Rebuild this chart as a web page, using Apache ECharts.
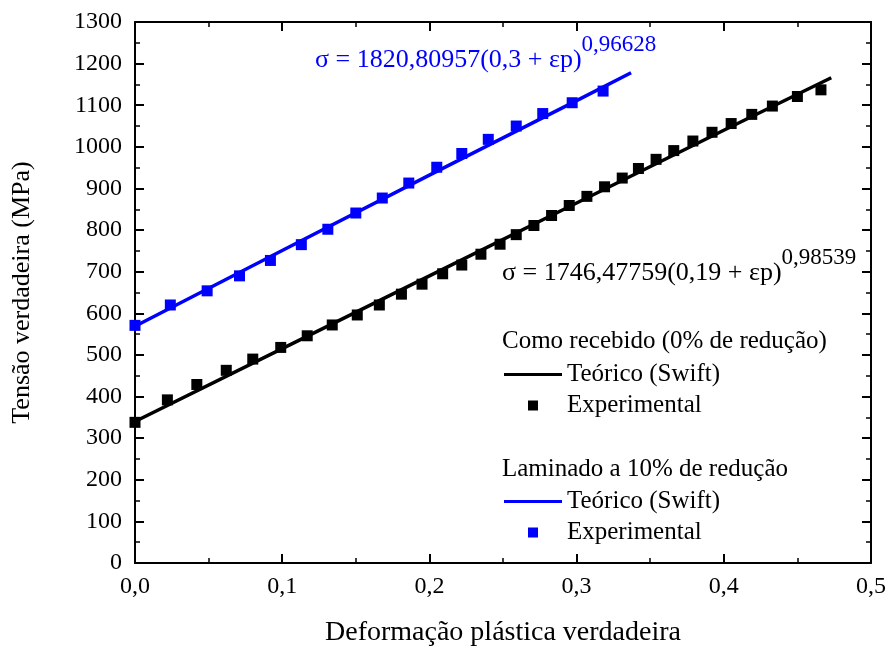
<!DOCTYPE html>
<html>
<head>
<meta charset="utf-8">
<script src="https://cdn.jsdelivr.net/npm/echarts@6/dist/echarts.min.js"></script>
<style>
  html, body { margin: 0; padding: 0; background: #fff; }
  #chart { width: 888px; height: 647px; }
</style>
</head>
<body>
<div id="chart"></div>
<script>
// Como recebido (0% de reducao)
const expBlackX = [0.000, 0.022, 0.042, 0.062, 0.080, 0.099, 0.117, 0.134, 0.151, 0.166, 0.181, 0.195, 0.209, 0.222, 0.235, 0.248, 0.259,
  0.271, 0.283, 0.295, 0.307, 0.319, 0.331, 0.342, 0.354, 0.366, 0.379, 0.392, 0.405, 0.419, 0.433, 0.450, 0.466]
const expBlackY = [338, 392, 429, 463, 490, 518, 546, 572, 596, 620, 646, 670, 695, 716, 742, 766, 789,
  811, 835, 859, 881, 904, 925, 948, 970, 991, 1014, 1035, 1056, 1078, 1098, 1121, 1137]
const fitBlackX = [0, 0.1, 0.2, 0.3, 0.4, 0.473]
const fitBlackY = [340, 515, 690, 865, 1040, 1166]

// Laminado a 10% de reducao
const expBlueX = [0.000, 0.024, 0.049, 0.071, 0.092, 0.113, 0.131, 0.150, 0.168, 0.186, 0.205, 0.222, 0.240, 0.259, 0.277, 0.297, 0.318]
const expBlueY = [571, 620, 654, 690, 727, 765, 802, 841, 877, 913, 951, 984, 1018, 1050, 1080, 1106, 1134]
const fitBlueX = [0, 0.1, 0.2, 0.3, 0.337]
const fitBlueY = [569, 751, 932, 1111, 1178]

const xTicks = [0, 0.1, 0.2, 0.3, 0.4, 0.5]
const yTicks = [0, 100, 200, 300, 400, 500, 600, 700, 800, 900, 1000, 1100, 1200, 1300]

const FONT = '"Liberation Serif", "Times New Roman", serif'
const BLUE = '#0000FF'
const squareIcon = 'path://M0,0L10,0L10,10L0,10Z'
const lineIcon = 'path://M0,0L58,0L58,3L0,3Z'

const zip = (xs, ys) => xs.map((x, i) => [x, ys[i]])

const baseAxis = {
  type: 'value',
  axisLine: { show: true, onZero: false, lineStyle: { color: '#000', width: 2 } },
  axisTick: { show: true, inside: true, length: 9, lineStyle: { color: '#000', width: 2 } },
  minorTick: { show: true, splitNumber: 2, length: 5, lineStyle: { color: '#000', width: 1.5 } },
  splitLine: { show: false },
  axisLabel: { color: '#000', fontFamily: FONT, fontSize: 24 }
}

const legendText = { color: '#000', fontFamily: FONT, fontSize: 25, lineHeight: 22 }

// equation label: main part + superscript exponent
const eqRich = color => ({
  m: { fill: color, fontFamily: FONT, fontSize: 26, lineHeight: 40, verticalAlign: 'bottom' },
  s: { fill: color, fontFamily: FONT, fontSize: 23, lineHeight: 20, verticalAlign: 'top' }
})

const chart = echarts.init(document.getElementById('chart'))
chart.setOption({
  animation: false,
  backgroundColor: '#fff',
  grid: { left: 135, right: 17, top: 22, bottom: 84, containLabel: false, outerBoundsMode: 'none' },
  xAxis: [
    Object.assign({}, baseAxis, {
      position: 'bottom', min: xTicks[0], max: xTicks[xTicks.length - 1], interval: 0.1,
      axisLabel: Object.assign({}, baseAxis.axisLabel, { margin: 12, formatter: v => v.toFixed(1).replace('.', ',') }),
      name: 'Deformação plástica verdadeira', nameLocation: 'middle', nameGap: 56,
      nameTextStyle: { color: '#000', fontFamily: FONT, fontSize: 28 }
    }),
    Object.assign({}, baseAxis, {
      position: 'top', min: xTicks[0], max: xTicks[xTicks.length - 1], interval: 0.1,
      axisLabel: { show: false }
    })
  ],
  yAxis: [
    Object.assign({}, baseAxis, {
      position: 'left', min: yTicks[0], max: yTicks[yTicks.length - 1], interval: 100,
      axisLabel: Object.assign({}, baseAxis.axisLabel, { margin: 13, formatter: v => String(v) }),
      name: 'Tensão verdadeira (MPa)', nameLocation: 'middle', nameGap: 100,
      nameTextStyle: { color: '#000', fontFamily: FONT, fontSize: 26 }
    }),
    Object.assign({}, baseAxis, {
      position: 'right', min: yTicks[0], max: yTicks[yTicks.length - 1], interval: 100,
      axisLabel: { show: false }
    })
  ],
  legend: [
    {
      orient: 'vertical', left: 499, top: 357, itemWidth: 58, itemHeight: 10, itemGap: 6,
      formatter: n => n.split('|')[0], textStyle: legendText,
      data: [{ name: 'Teórico (Swift)|0', icon: lineIcon }, { name: 'Experimental|0', icon: squareIcon }]
    },
    {
      orient: 'vertical', left: 499, top: 484, itemWidth: 58, itemHeight: 10, itemGap: 6,
      formatter: n => n.split('|')[0], textStyle: legendText,
      data: [{ name: 'Teórico (Swift)|1', icon: lineIcon }, { name: 'Experimental|1', icon: squareIcon }]
    }
  ],
  graphic: [
    { type: 'text', left: 502, top: 329, style: { text: 'Como recebido (0% de redução)', fill: '#000', font: '25px ' + FONT } },
    { type: 'text', left: 502, top: 457, style: { text: 'Laminado a 10% de redução', fill: '#000', font: '25px ' + FONT } },
    { type: 'text', left: 315, top: 33, style: { text: '{m|σ = 1820,80957(0,3 + εp)}{s|0,96628}', fill: BLUE, rich: eqRich(BLUE) } },
    { type: 'text', left: 502, top: 246, style: { text: '{m|σ = 1746,47759(0,19 + εp)}{s|0,98539}', fill: '#000', rich: eqRich('#000') } }
  ],
  series: [
    {
      name: 'Teórico (Swift)|0', type: 'line', data: zip(fitBlackX, fitBlackY), symbol: 'none',
      lineStyle: { color: '#000', width: 3.5 }, itemStyle: { color: '#000' }, z: 2
    },
    {
      name: 'Experimental|0', type: 'scatter', data: zip(expBlackX, expBlackY), symbol: 'rect', symbolSize: 11,
      itemStyle: { color: '#000', opacity: 1 }, z: 3
    },
    {
      name: 'Teórico (Swift)|1', type: 'line', data: zip(fitBlueX, fitBlueY), symbol: 'none',
      lineStyle: { color: BLUE, width: 3.5 }, itemStyle: { color: BLUE }, z: 2
    },
    {
      name: 'Experimental|1', type: 'scatter', data: zip(expBlueX, expBlueY), symbol: 'rect', symbolSize: 11,
      itemStyle: { color: BLUE, opacity: 1 }, z: 3
    }
  ]
})
</script>
</body>
</html>
